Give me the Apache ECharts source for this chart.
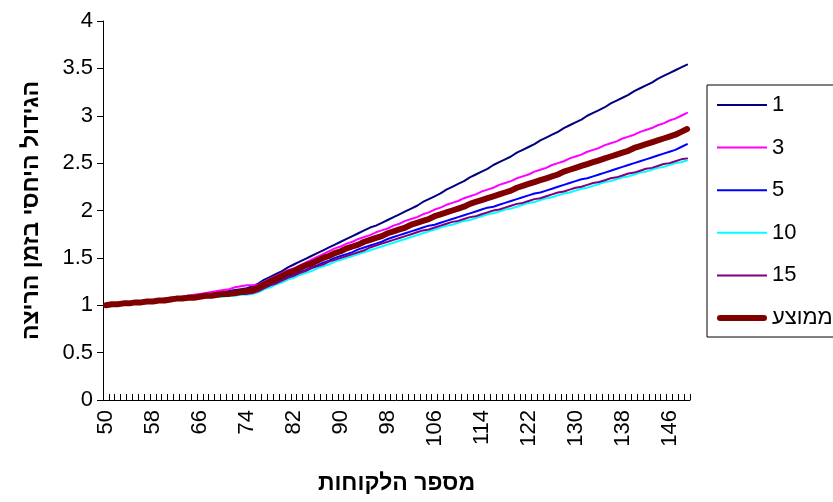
<!DOCTYPE html>
<html>
<head>
<meta charset="utf-8">
<script src="https://cdn.jsdelivr.net/npm/echarts@6/dist/echarts.min.js"></script>
<style>html,body{margin:0;padding:0;background:#fff}#c{width:833px;height:502px}</style>
</head>
<body>
<div id="c"></div>
<script>
// categories: number of customers 50..149
var categories = [
 50,51,52,53,54,55,56,57,58,59,
 60,61,62,63,64,65,66,67,68,69,
 70,71,72,73,74,75,76,77,78,79,
 80,81,82,83,84,85,86,87,88,89,
 90,91,92,93,94,95,96,97,98,99,
 100,101,102,103,104,105,106,107,108,109,
 110,111,112,113,114,115,116,117,118,119,
 120,121,122,123,124,125,126,127,128,129,
 130,131,132,133,134,135,136,137,138,139,
 140,141,142,143,144,145,146,147,148,149
];
var s1 = [
 1.00,1.01,1.01,1.02,1.03,1.03,1.04,1.05,1.05,1.06,
 1.07,1.07,1.08,1.09,1.10,1.10,1.11,1.12,1.13,1.13,
 1.14,1.15,1.16,1.17,1.18,1.20,1.23,1.27,1.30,1.33,
 1.36,1.40,1.43,1.46,1.49,1.52,1.55,1.58,1.61,1.64,
 1.67,1.70,1.73,1.76,1.79,1.82,1.84,1.87,1.90,1.93,
 1.96,1.99,2.02,2.05,2.09,2.12,2.15,2.18,2.22,2.25,
 2.28,2.31,2.35,2.38,2.41,2.44,2.48,2.51,2.54,2.57,
 2.61,2.64,2.67,2.70,2.74,2.77,2.80,2.83,2.87,2.90,
 2.93,2.96,3.00,3.03,3.06,3.09,3.13,3.16,3.19,3.22,
 3.26,3.29,3.32,3.35,3.39,3.42,3.45,3.48,3.51,3.54
];
var s3 = [
 1.00,1.01,1.01,1.02,1.03,1.03,1.04,1.05,1.05,1.06,
 1.07,1.08,1.08,1.09,1.10,1.11,1.12,1.13,1.14,1.15,
 1.16,1.17,1.19,1.20,1.21,1.21,1.22,1.25,1.28,1.31,
 1.34,1.37,1.39,1.42,1.45,1.48,1.51,1.54,1.57,1.60,
 1.62,1.65,1.67,1.70,1.72,1.74,1.77,1.79,1.81,1.84,
 1.86,1.89,1.91,1.93,1.96,1.98,2.01,2.03,2.06,2.08,
 2.10,2.13,2.15,2.17,2.20,2.22,2.24,2.27,2.29,2.31,
 2.34,2.36,2.38,2.41,2.43,2.45,2.48,2.50,2.52,2.55,
 2.57,2.59,2.62,2.64,2.66,2.69,2.71,2.73,2.76,2.78,
 2.80,2.83,2.85,2.87,2.90,2.92,2.95,2.97,3.00,3.03
];
var s5 = [
 1.00,1.01,1.01,1.02,1.02,1.03,1.03,1.04,1.04,1.05,
 1.05,1.06,1.06,1.07,1.07,1.08,1.08,1.09,1.09,1.10,
 1.10,1.11,1.11,1.12,1.12,1.13,1.15,1.18,1.21,1.24,
 1.27,1.30,1.32,1.35,1.37,1.40,1.42,1.45,1.47,1.50,
 1.52,1.54,1.56,1.59,1.61,1.63,1.65,1.67,1.70,1.72,
 1.74,1.76,1.78,1.80,1.82,1.84,1.85,1.87,1.89,1.91,
 1.93,1.95,1.97,1.99,2.01,2.03,2.04,2.06,2.08,2.10,
 2.12,2.14,2.16,2.18,2.19,2.21,2.23,2.25,2.27,2.29,
 2.31,2.33,2.34,2.36,2.38,2.40,2.42,2.44,2.46,2.48,
 2.50,2.52,2.54,2.56,2.58,2.60,2.62,2.64,2.67,2.70
];
var s10 = [
 1.00,1.01,1.01,1.02,1.02,1.03,1.03,1.03,1.04,1.04,
 1.05,1.05,1.06,1.06,1.07,1.07,1.08,1.08,1.09,1.09,
 1.09,1.10,1.10,1.11,1.11,1.12,1.14,1.17,1.19,1.22,
 1.24,1.27,1.29,1.32,1.34,1.36,1.39,1.41,1.43,1.46,
 1.48,1.50,1.52,1.54,1.56,1.58,1.60,1.62,1.64,1.66,
 1.68,1.70,1.72,1.74,1.76,1.78,1.80,1.82,1.84,1.85,
 1.87,1.89,1.90,1.92,1.94,1.96,1.97,1.99,2.01,2.02,
 2.04,2.06,2.08,2.09,2.11,2.13,2.14,2.16,2.18,2.19,
 2.21,2.23,2.24,2.26,2.28,2.30,2.31,2.33,2.35,2.36,
 2.38,2.40,2.41,2.43,2.45,2.46,2.48,2.50,2.51,2.53
];
var s15 = [
 1.00,1.01,1.01,1.02,1.02,1.03,1.03,1.04,1.04,1.05,
 1.05,1.06,1.06,1.07,1.07,1.08,1.08,1.09,1.09,1.10,
 1.10,1.11,1.11,1.12,1.12,1.13,1.15,1.18,1.21,1.23,
 1.26,1.29,1.31,1.34,1.36,1.39,1.41,1.43,1.46,1.48,
 1.50,1.52,1.54,1.56,1.58,1.61,1.63,1.65,1.67,1.69,
 1.71,1.73,1.75,1.77,1.79,1.80,1.82,1.84,1.86,1.88,
 1.89,1.91,1.93,1.94,1.96,1.98,2.00,2.01,2.03,2.05,
 2.07,2.08,2.10,2.12,2.13,2.15,2.17,2.19,2.20,2.22,
 2.24,2.25,2.27,2.29,2.30,2.32,2.34,2.35,2.37,2.39,
 2.40,2.42,2.44,2.45,2.47,2.49,2.50,2.52,2.54,2.55
];
var sAvg = [
 1.00,1.01,1.01,1.02,1.02,1.03,1.03,1.04,1.04,1.05,
 1.05,1.06,1.07,1.07,1.08,1.08,1.09,1.10,1.10,1.11,
 1.12,1.12,1.13,1.14,1.15,1.16,1.19,1.22,1.25,1.28,
 1.31,1.34,1.36,1.39,1.42,1.44,1.47,1.50,1.52,1.55,
 1.57,1.60,1.62,1.64,1.67,1.69,1.71,1.73,1.76,1.78,
 1.80,1.82,1.85,1.87,1.89,1.91,1.94,1.96,1.98,2.00,
 2.02,2.04,2.07,2.09,2.11,2.13,2.15,2.17,2.19,2.21,
 2.24,2.26,2.28,2.30,2.32,2.34,2.36,2.38,2.41,2.43,
 2.45,2.47,2.49,2.51,2.53,2.55,2.57,2.59,2.61,2.63,
 2.66,2.68,2.70,2.72,2.74,2.76,2.78,2.80,2.83,2.86
];
var seriesNames = ['1','3','5','10','15','ממוצע'];
var seriesData = [s1, s3, s5, s10, s15, sAvg];
var seriesColors = ['#000080','#FF00FF','#0000FF','#00FFFF','#800080','#800000'];
var seriesWidths = [2,2,2,2,2,6];
var yTicks = {min:0, max:4, interval:0.5};
var xTitle = 'מספר הלקוחות';
var yTitle = 'הגידול היחסי בזמן הריצה';

var FONT = 'Liberation Sans, Arial, sans-serif';
var ICON_THIN = 'path://M0,0 L50,0 L50,2 L0,2 Z';
var ICON_THICK = 'path://M3,0 L47,0 A3,3 0 0 1 47,6 L3,6 A3,3 0 0 1 3,0 Z';
var chart = echarts.init(document.getElementById('c'), null, {renderer:'canvas'});
var series = seriesNames.map(function(n,i){
  return {
    name:n, type:'line', data:seriesData[i], symbol:'none', showSymbol:false,
    animation:false, z: i===5 ? 5 : 2,
    lineStyle:{color:seriesColors[i], width:seriesWidths[i], cap:'round', join:'round'},
    itemStyle:{color:seriesColors[i]}
  };
});
chart.setOption({
  backgroundColor:'#fff',
  animation:false,
  grid:{left:103, right:143, top:21, bottom:102, outerBoundsMode:'none', containLabel:false},
  legend:{
    orient:'vertical', left:707, top:85,
    padding:[9,20,8,10],
    itemWidth:50, itemHeight:22, itemGap:20.6,
    symbolKeepAspect:true,
    borderColor:'#000', borderWidth:1, borderRadius:0,
    textStyle:{fontFamily:FONT, fontSize:22, color:'#000'},
    data:seriesNames.map(function(n,i){
      return {name:n, icon: i===5 ? ICON_THICK : ICON_THIN, itemStyle:{color:seriesColors[i]}};
    })
  },
  xAxis:{
    type:'category', data:categories, boundaryGap:true,
    name:xTitle, nameLocation:'middle', nameGap:72,
    nameTextStyle:{fontFamily:FONT, fontSize:23, fontWeight:'bold', color:'#000'},
    axisLine:{show:true, lineStyle:{color:'#000', width:1}},
    axisTick:{show:true, inside:true, length:6, interval:0, lineStyle:{color:'#000'}},
    axisLabel:{interval:7, rotate:90, margin:10, fontFamily:FONT, fontSize:22, color:'#000'},
    splitLine:{show:false}
  },
  yAxis:{
    type:'value', min:yTicks.min, max:yTicks.max, interval:yTicks.interval,
    name:yTitle, nameLocation:'middle', nameGap:60,
    nameTextStyle:{fontFamily:FONT, fontSize:23, fontWeight:'bold', color:'#000'},
    axisLine:{show:true, lineStyle:{color:'#000', width:1}},
    axisTick:{show:true, inside:false, length:6, lineStyle:{color:'#000'}},
    axisLabel:{margin:10, fontFamily:FONT, fontSize:22, color:'#000'},
    splitLine:{show:false}
  },
  series:series
});
</script>
</body>
</html>
